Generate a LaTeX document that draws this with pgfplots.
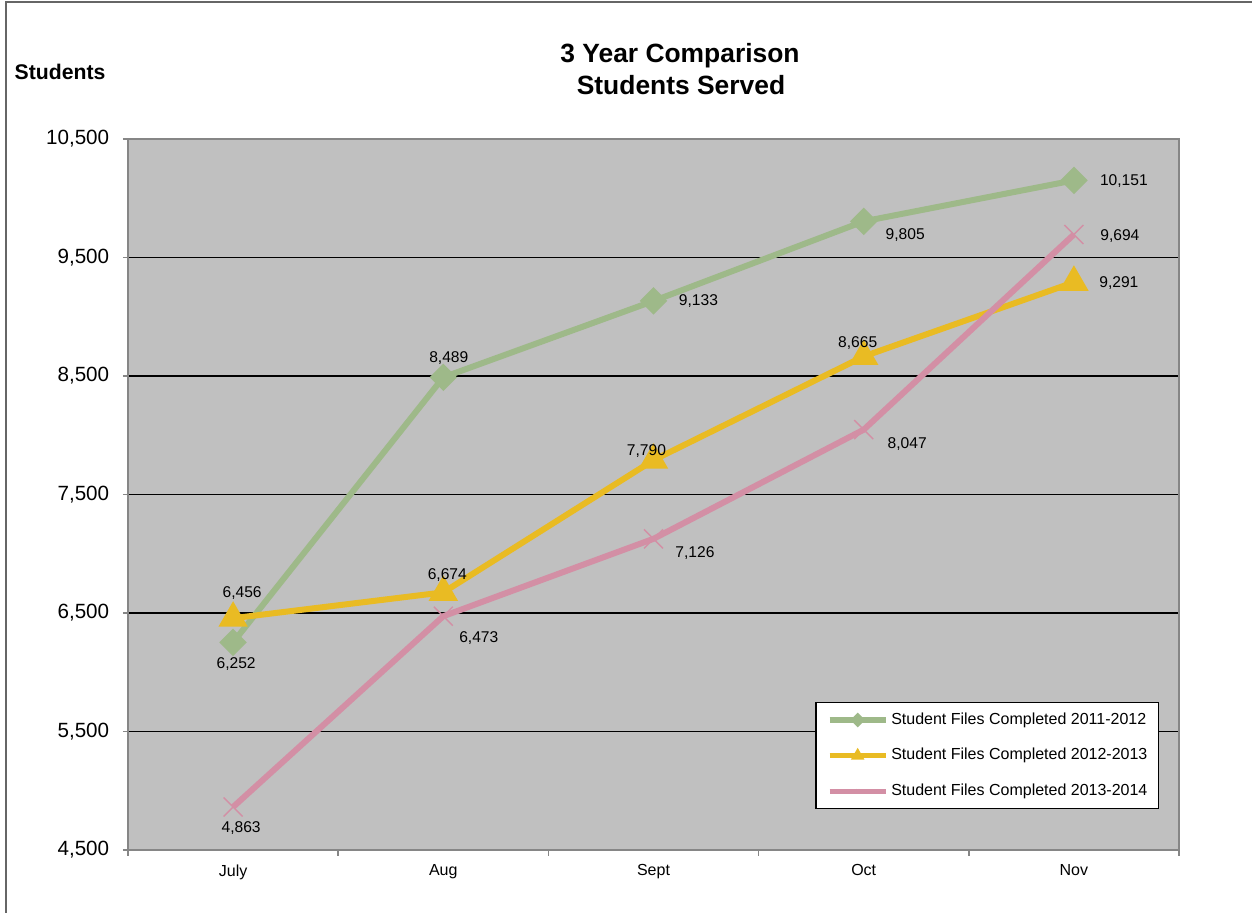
\documentclass[border=0pt]{standalone}
\usepackage{fontspec}
\setmainfont{Liberation Sans}
\usepackage{pgfplots}
\usepackage{pgfplotstable}
\pgfplotsset{compat=1.18}

\definecolor{fileGreen}{RGB}{158,185,137}
\definecolor{fileGold}{RGB}{233,187,35}
\definecolor{filePink}{RGB}{211,143,165}
\definecolor{plotGray}{RGB}{192,192,192}
\definecolor{frameGray}{RGB}{134,134,134}

% month index, students, label offsets (pt)
\pgfplotstableread{
x y dx dy
0 6252 1.5 -11
1 8489 2.75 9.5
2 9133 22.5 0
3 9805 20.75 -7
4 10151 25 -0.5
}\filesA
\pgfplotstableread{
x y dx dy
0 6456 4.5 12.75
1 6674 2 8.5
2 7790 -3.5 4.75
3 8665 -3 6.5
4 9291 22.5 -0.5
}\filesB
\pgfplotstableread{
x y dx dy
0 4863 4 -10.5
1 6473 17.75 -10.75
2 7126 20.75 -7.25
3 8047 21.75 -7
4 9694 23 -0.75
}\filesC

\pgfplotsset{
  value labels/.style={
    nodes near coords,
    visualization depends on={\thisrow{dx} \as \lbldx},
    visualization depends on={\thisrow{dy} \as \lbldy},
    every node near coord/.append style={
      font=\fontsize{7.8}{9}\selectfont, text=black, inner sep=0pt,
      anchor=center, xshift=\lbldx pt, yshift=\lbldy pt},
  },
}

\begin{document}
\begin{tikzpicture}
\path[use as bounding box] (0,0) rectangle (626pt,-456.5pt);
\draw[black!60, line width=1pt] (2.75pt,-1.25pt) rectangle (640pt,-470pt);
\node[font=\bfseries\fontsize{13.2}{15}\selectfont] at (340pt,-28pt) {3 Year Comparison};
\node[font=\bfseries\fontsize{13.2}{15}\selectfont] at (340.5pt,-42.5pt) {Students Served};
\node[font=\bfseries\fontsize{10.6}{12}\selectfont] at (30pt,-36pt) {Students};

\begin{axis}[
  at={(64pt,-425pt)}, anchor=south west,
  scale only axis, width=525.5pt, height=355.5pt,
  xmin=-0.5, xmax=4.5, ymin=4500, ymax=10500,
  axis background/.style={fill=plotGray},
  axis line style={draw=frameGray, line width=1pt},
  xtick={0,1,2,3,4}, xticklabels={July,Aug,Sept,Oct,Nov},
  minor xtick={-0.5,0.5,1.5,2.5,3.5,4.5},
  major x tick style={draw=none},
  minor x tick style={draw=frameGray, line width=0.75pt},
  ytick={4500,5500,...,10500},
  y tick style={draw=frameGray, line width=0.75pt},
  tick align=outside, major tick length=2.5pt, minor tick length=2.75pt,
  xtick pos=bottom, ytick pos=left,
  ymajorgrids, major grid style={draw=black, line width=0.6pt},
  scaled y ticks=false,
  yticklabel style={font=\fontsize{10.3}{12}\selectfont, xshift=-3.4pt},
  xticklabel style={font=\fontsize{8}{10}\selectfont, yshift=-1.2pt},
  legend style={
    at={(0.981,0.208)}, anchor=north east,
    draw=black, line width=0.6pt, fill=white,
    font=\fontsize{8}{9.6}\selectfont,
    inner xsep=5.5pt, inner ysep=5pt,
    row sep=10.5pt, column sep=1.5pt,
    nodes={inner sep=0pt},
  },
  legend cell align=left,
  legend image code/.code={
    \draw[mark repeat=2, mark phase=2, #1, line width=2.6pt, mark size=1.3pt]
      plot coordinates {(0pt,0pt) (14pt,0pt) (28pt,0pt)};
  },
  /pgf/number format/1000 sep={,},
  /pgf/number format/assume math mode=true,
]
\addplot[color=fileGreen, line width=3pt, mark=square*, mark size=3.36pt,
  mark options={solid, rotate=45, fill=fileGreen, draw=none}, value labels]
  table[x=x, y=y] {\filesA};
\addlegendentry{Student Files Completed 2011-2012}
\addplot[color=fileGold, line width=3pt, mark=triangle*, mark size=5.5pt,
  mark options={solid, fill=fileGold, draw=none}, value labels]
  table[x=x, y=y] {\filesB};
\addlegendentry{Student Files Completed 2012-2013}
\addplot[color=filePink, line width=3pt, mark=x, mark size=6.7pt,
  mark options={solid, draw=filePink, line width=0.7pt}, value labels]
  table[x=x, y=y] {\filesC};
\addlegendentry{Student Files Completed 2013-2014}
\end{axis}
\end{tikzpicture}
\end{document}
